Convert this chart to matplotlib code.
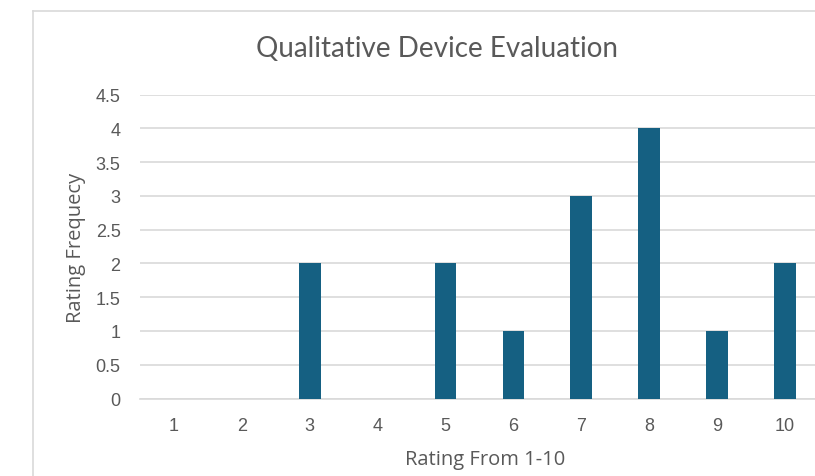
import matplotlib
matplotlib.use('agg')
import matplotlib.pyplot as plt
from matplotlib.lines import Line2D

ratings = [1, 2, 3, 4, 5, 6, 7, 8, 9, 10]
frequency = [0, 0, 2, 0, 2, 1, 3, 4, 1, 2]
y_ticks = [0, 0.5, 1, 1.5, 2, 2.5, 3, 3.5, 4, 4.5]
y_tick_labels = ['0', '0.5', '1', '1.5', '2', '2.5', '3', '3.5', '4', '4.5']

bar_color = '#156082'
text_color = '#595959'
grid_color = '#d9d9d9'

W, H = 815, 477
fig = plt.figure(figsize=(W / 100, H / 100), dpi=100)

# chart area border (only the top and left edges show in the crop)
fig.add_artist(Line2D([33 / W, 33 / W], [0, 1 - 12 / H], color=grid_color, lw=1.2))
fig.add_artist(Line2D([33 / W, 1], [1 - 12 / H, 1 - 12 / H], color=grid_color, lw=1.2))

left, right = 140, 815
bottom, top = 399.5, 95.7
ax = fig.add_axes([left / W, 1 - bottom / H, (right - left) / W, (bottom - top) / H])

ax.bar(ratings, frequency, width=0.32, color=bar_color, zorder=3)

ax.set_xlim(0.5, 0.5 + (right - left) / 67.9)
ax.set_ylim(0, 4.5)
ax.set_xticks(ratings)
ax.set_xticklabels([str(r) for r in ratings])
ax.set_yticks(y_ticks)
ax.set_yticklabels(y_tick_labels)

ax.grid(axis='y', color=grid_color, lw=1.2, zorder=0)
for s in ['top', 'right', 'left']:
    ax.spines[s].set_visible(False)
ax.spines['bottom'].set_color(grid_color)
ax.spines['bottom'].set_linewidth(1.2)

ax.tick_params(axis='both', length=0, colors=text_color, labelsize=13)
ax.tick_params(axis='y', pad=14)
ax.tick_params(axis='x', pad=13)
for lab in ax.get_xticklabels() + ax.get_yticklabels():
    lab.set_family('Liberation Sans')

fig.text(437 / W, 1 - 49 / H, 'Qualitative Device Evaluation', ha='center', va='center',
         fontsize=20, color=text_color, family='Lato')
fig.text(485 / W, 1 - 460 / H, 'Rating From 1-10', ha='center', va='center',
         fontsize=14.5, color=text_color, family='Open Sans')
fig.text(76 / W, 1 - 248 / H, 'Rating Frequecy', ha='center', va='center', rotation=90,
         fontsize=14.5, color=text_color, family='Open Sans')

fig.savefig('out.png', dpi=100)
